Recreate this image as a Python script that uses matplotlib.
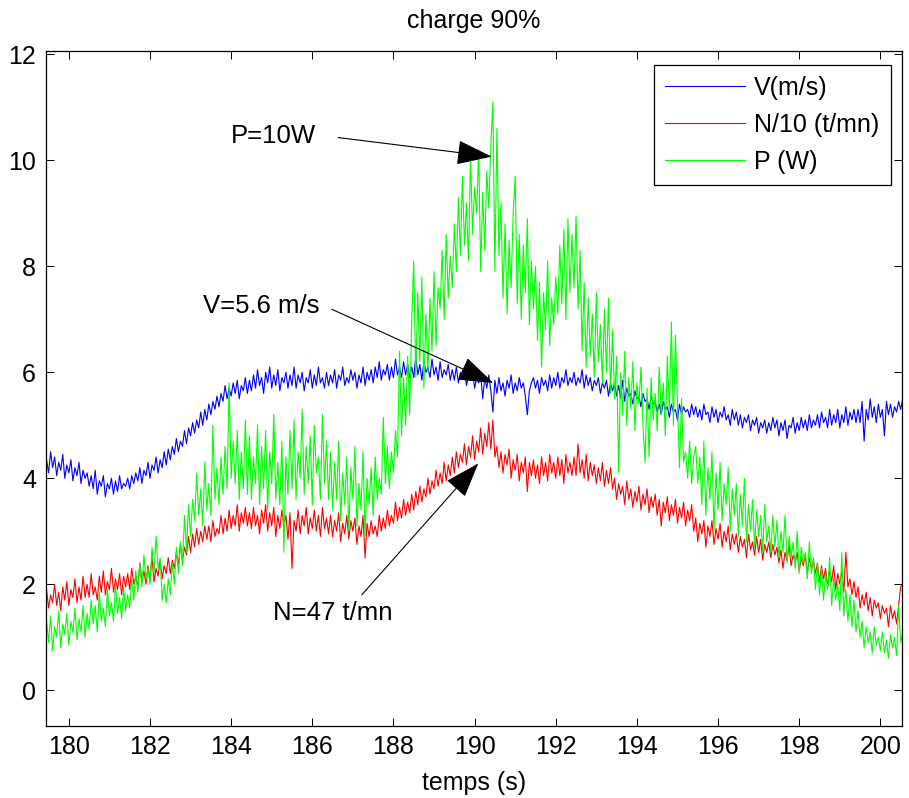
import numpy as np
import matplotlib.pyplot as plt

plt.rcParams['font.family'] = ['Liberation Sans', 'DejaVu Sans']

# sampled signals, 0.05 s step starting at 179.45 s (one row = 1 s)
t_start = 179.45
t_step = 0.05

V = [
    4.35, 4.1, 4.5, 4.2, 4.4, 4.05, 4.3, 4.15, 4.45, 4.0, 4.25, 4.1, 4.35, 3.95, 4.2, 4.05, 4.3, 3.9, 4.15, 4.0,
    4.1, 3.85, 4.05, 3.8, 4.15, 3.7, 3.95, 3.85, 4.05, 3.65, 3.9, 3.8, 4.0, 3.7, 3.95, 3.75, 4.05, 3.8, 3.9, 3.85,
    4.0, 3.8, 4.05, 3.9, 4.1, 3.95, 4.2, 3.9, 4.15, 4.05, 4.3, 4.0, 4.25, 4.15, 4.4, 4.1, 4.35, 4.2, 4.5, 4.25,
    4.55, 4.35, 4.6, 4.45, 4.75, 4.5, 4.7, 4.6, 4.9, 4.65, 4.95, 4.8, 5.05, 4.85, 5.1, 4.95, 5.25, 5.0, 5.3, 5.1,
    5.4, 5.2, 5.45, 5.3, 5.55, 5.35, 5.6, 5.45, 5.75, 5.5, 5.7, 5.55, 5.8, 5.6, 5.85, 5.5, 5.75, 5.65, 5.9, 5.6,
    5.85, 5.65, 5.95, 5.7, 6.05, 5.75, 5.9, 5.6, 6.0, 5.8, 6.1, 5.7, 5.95, 5.75, 6.05, 5.65, 5.9, 5.8, 6.0, 5.7,
    5.95, 5.75, 6.1, 5.7, 5.95, 5.8, 6.0, 5.65, 5.9, 5.8, 6.05, 5.7, 5.95, 5.75, 6.1, 5.8, 5.9, 5.7, 6.0, 5.75,
    5.95, 5.8, 6.05, 5.7, 5.95, 5.85, 6.1, 5.75, 5.9, 5.8, 6.05, 5.85, 6.0, 5.7, 5.95, 5.8, 6.1, 5.75, 6.0, 5.85,
    6.05, 5.8, 6.1, 5.9, 6.2, 5.85, 6.05, 5.95, 6.15, 5.85, 6.1, 5.9, 6.25, 5.95, 6.1, 5.9, 6.2, 5.95, 6.15, 5.9,
    6.1, 5.9, 6.3, 5.95, 6.15, 5.85, 6.2, 6.0, 6.1, 5.9, 6.25, 5.95, 6.1, 5.85, 6.2, 5.9, 6.05, 5.95, 6.15, 5.85,
    6.05, 5.85, 6.1, 5.8, 6.0, 5.9, 6.05, 5.75, 5.95, 5.85, 6.0, 5.7, 5.9, 5.8, 5.95, 5.5, 5.9, 5.7, 5.95, 5.65,
    5.25, 5.85, 5.6, 5.9, 5.65, 5.8, 5.55, 5.85, 5.7, 5.95, 5.6, 5.8, 5.65, 5.9, 5.7, 5.8, 5.55, 5.2, 5.65, 5.8,
    5.9, 5.7, 5.85, 5.6, 5.9, 5.75, 5.85, 5.65, 5.95, 5.7, 5.9, 5.75, 6.0, 5.7, 5.9, 5.8, 6.05, 5.75, 5.9, 5.8,
    6.0, 5.75, 5.9, 5.8, 6.05, 5.7, 5.95, 5.75, 5.9, 5.65, 5.85, 5.75, 5.9, 5.6, 5.8, 5.7, 5.85, 5.55, 5.8, 5.65,
    5.8, 5.55, 5.75, 5.5, 5.85, 5.45, 5.7, 5.55, 5.6, 5.4, 5.65, 5.5, 5.55, 5.35, 5.6, 5.45, 5.5, 5.3, 5.55, 5.4,
    5.45, 5.25, 5.4, 5.2, 5.45, 5.3, 5.35, 5.15, 5.4, 5.25, 5.3, 5.1, 5.4, 5.2, 5.35, 5.25, 5.3, 5.15, 5.4, 5.2,
    5.35, 5.15, 5.3, 5.1, 5.4, 5.2, 5.25, 5.05, 5.35, 5.15, 5.3, 5.05, 5.25, 5.15, 5.35, 5.1, 5.2, 5.0, 5.3, 5.1,
    5.25, 5.0, 5.2, 4.95, 5.15, 5.05, 5.2, 4.9, 5.1, 5.0, 5.15, 4.85, 5.05, 4.95, 5.1, 4.85, 5.05, 4.9, 5.15, 4.95,
    5.1, 4.8, 5.05, 4.9, 5.1, 4.75, 5.0, 4.95, 5.15, 4.85, 5.05, 4.9, 5.15, 4.95, 5.1, 4.9, 5.2, 4.95, 5.1, 5.0,
    5.2, 4.95, 5.25, 5.05, 5.15, 4.95, 5.3, 5.0, 5.2, 5.05, 5.3, 4.95, 5.2, 5.05, 5.35, 5.0, 5.25, 5.1, 5.3, 5.05,
    5.3, 5.05, 5.45, 4.7, 5.3, 5.1, 5.5, 5.15, 5.35, 5.05, 5.4, 5.15, 5.3, 4.8, 5.45, 5.2, 5.4, 5.15, 5.35, 5.25,
    5.45, 5.3, 5.5,
]

N10 = [
    1.9, 1.55, 1.8, 1.65, 2.0, 1.6, 1.85, 1.5, 1.95, 1.7, 2.05, 1.6, 1.9, 1.75, 2.1, 1.65, 1.95, 1.7, 2.15, 1.75,
    2.0, 1.75, 2.2, 1.8, 1.95, 1.7, 2.15, 1.85, 2.25, 1.8, 2.05, 1.9, 2.3, 1.85, 2.1, 1.9, 2.2, 1.8, 2.15, 1.95,
    2.2, 1.9, 2.3, 2.0, 2.15, 1.95, 2.4, 2.05, 2.25, 2.0, 2.35, 2.1, 2.5, 2.05, 2.3, 2.15, 2.45, 2.1, 2.35, 2.2,
    2.5, 2.2, 2.45, 2.3, 2.6, 2.35, 2.75, 2.45, 2.7, 2.55, 2.9, 2.6, 2.95, 2.7, 3.05, 2.75, 3.0, 2.8, 3.1, 2.85,
    3.1, 2.8, 3.2, 2.9, 3.05, 2.95, 3.3, 2.95, 3.25, 3.0, 3.4, 3.05, 3.3, 3.1, 3.5, 3.0, 3.35, 3.15, 3.45, 3.1,
    3.35, 3.05, 3.45, 3.1, 3.3, 2.95, 3.4, 3.15, 3.5, 3.0, 3.35, 3.1, 3.45, 2.9, 3.3, 3.05, 3.4, 3.1, 3.3, 2.85,
    3.35, 2.3, 3.2, 3.0, 3.4, 2.95, 3.3, 3.1, 3.45, 2.95, 3.25, 3.05, 3.4, 3.0, 3.3, 2.9, 3.45, 3.05, 3.25, 2.95,
    3.3, 2.9, 3.2, 3.0, 3.35, 2.8, 3.15, 2.95, 3.3, 2.85, 3.2, 3.0, 3.25, 2.75, 3.1, 2.9, 3.3, 2.5, 3.15, 2.9,
    3.2, 2.95, 3.1, 2.9, 3.3, 3.0, 3.25, 3.05, 3.4, 3.1, 3.3, 3.15, 3.55, 3.2, 3.45, 3.25, 3.6, 3.3, 3.55, 3.35,
    3.7, 3.4, 3.75, 3.5, 3.85, 3.55, 3.8, 3.65, 4.0, 3.7, 3.95, 3.8, 4.15, 3.85, 4.1, 3.9, 4.3, 3.95, 4.25, 4.05,
    4.4, 4.1, 4.5, 4.2, 4.45, 4.3, 4.65, 4.25, 4.6, 4.4, 4.8, 4.35, 4.7, 4.5, 4.95, 4.45, 4.85, 4.6, 5.05, 4.55,
    5.1, 4.4, 4.6, 4.2, 4.5, 4.1, 4.45, 4.25, 4.55, 4.0, 4.35, 4.15, 4.45, 3.95, 4.3, 4.1, 4.4, 3.75, 4.3, 4.05,
    4.35, 4.0, 4.25, 3.9, 4.4, 4.05, 4.3, 3.95, 4.45, 4.1, 4.3, 4.0, 4.4, 4.05, 4.35, 3.9, 4.45, 4.1, 4.3, 4.05,
    4.4, 4.05, 4.65, 4.1, 4.35, 4.0, 4.45, 3.95, 4.3, 4.05, 4.25, 3.9, 4.2, 3.95, 4.3, 3.85, 4.15, 3.9, 4.2, 3.8,
    4.0, 3.6, 3.9, 3.7, 3.85, 3.5, 3.95, 3.6, 3.8, 3.45, 3.75, 3.55, 3.85, 3.4, 3.7, 3.5, 3.8, 3.35, 3.65, 3.45,
    3.7, 3.3, 3.6, 3.1, 3.55, 3.35, 3.65, 3.2, 3.5, 3.3, 3.6, 3.15, 3.45, 3.25, 3.55, 3.1, 3.4, 3.2, 3.5, 3.0,
    3.25, 2.8, 3.15, 2.95, 3.2, 2.7, 3.1, 2.9, 3.2, 2.75, 3.05, 2.85, 3.15, 2.7, 3.0, 2.8, 3.1, 2.65, 2.95, 2.75,
    2.95, 2.6, 2.9, 2.7, 2.85, 2.5, 2.95, 2.65, 2.8, 2.55, 2.9, 2.6, 2.85, 2.45, 2.75, 2.6, 2.8, 2.5, 2.75, 2.55,
    2.7, 2.4, 2.65, 2.3, 2.6, 2.45, 2.75, 2.35, 2.55, 2.4, 2.6, 2.25, 2.5, 2.35, 2.55, 2.2, 2.5, 2.3, 2.45, 2.2,
    2.4, 2.05, 2.35, 2.1, 2.3, 1.95, 2.25, 2.05, 2.35, 1.9, 2.2, 2.0, 2.25, 1.85, 2.6, 1.95, 2.1, 1.8, 2.05, 1.75,
    1.95, 1.55, 1.8, 1.6, 1.85, 1.5, 1.75, 1.4, 1.7, 1.55, 1.65, 1.35, 1.6, 1.45, 1.55, 1.2, 1.6, 1.35, 1.5, 1.25,
    1.6, 1.95, 2.0,
]

P = [
    1.3, 0.9, 1.4, 0.75, 1.2, 1.0, 1.5, 0.8, 1.25, 1.05, 1.45, 0.85, 1.3, 1.1, 1.55, 0.95, 1.35, 1.1, 1.6, 1.0,
    1.45, 1.15, 1.7, 1.25, 1.6, 1.1, 1.85, 1.3, 1.55, 1.2, 1.9, 1.4, 1.65, 1.3, 2.0, 1.45, 1.75, 1.35, 1.95, 1.5,
    1.8, 1.55, 2.1, 1.7, 2.25, 1.85, 2.4, 1.95, 2.55, 2.1, 2.3, 2.0, 2.7, 2.2, 2.9, 2.3, 2.5, 1.7, 2.0, 1.65,
    2.1, 1.8, 2.4, 2.0, 2.7, 2.2, 2.8, 2.35, 3.3, 2.6, 3.5, 2.9, 3.6, 3.2, 4.1, 3.3, 3.8, 3.1, 4.3, 3.4,
    3.9, 3.3, 5.0, 3.6, 4.2, 3.5, 4.4, 3.7, 4.6, 3.8, 5.8, 4.0, 4.7, 3.9, 4.9, 3.6, 4.5, 3.8, 5.1, 3.7,
    4.8, 3.6, 4.4, 3.9, 5.0, 3.5, 4.6, 3.8, 4.9, 3.4, 4.5, 3.9, 5.2, 3.6, 4.3, 3.5, 4.7, 2.6, 4.4, 3.7,
    4.9, 3.8, 5.1, 3.6, 4.5, 4.0, 5.3, 3.7, 4.6, 3.9, 4.8, 3.5, 5.0, 4.1, 4.4, 3.6, 5.2, 3.9, 4.7, 3.6,
    4.5, 3.4, 4.3, 3.6, 4.7, 3.2, 4.1, 3.5, 4.4, 3.0, 4.2, 3.6, 4.6, 3.1, 3.9, 3.4, 4.5, 2.9, 4.0, 3.5,
    4.2, 3.3, 4.4, 3.6, 4.0, 3.7, 5.15, 3.9, 4.6, 3.8, 4.5, 4.1, 4.9, 4.4, 6.4, 4.8, 5.9, 5.0, 6.3, 5.2,
    7.0, 8.1, 5.9, 7.5, 6.2, 7.8, 5.7, 7.1, 6.0, 7.4, 6.4, 7.9, 6.5, 7.6, 7.2, 8.3, 7.0, 8.6, 7.4, 8.2,
    7.6, 8.8, 7.9, 9.3, 8.2, 9.7, 8.4, 9.2, 8.1, 10.1, 8.6, 9.5, 9.0, 10.2, 7.9, 9.4, 8.3, 9.8, 9.1, 10.3,
    11.1, 7.9, 10.6, 8.2, 9.2, 7.4, 8.8, 7.1, 8.5, 7.6, 9.0, 9.7, 7.3, 8.6, 7.0, 8.4, 7.5, 8.9, 6.9, 8.1,
    7.2, 8.0, 6.6, 7.7, 6.1, 7.5, 6.8, 8.1, 6.5, 7.4, 6.9, 7.8, 7.1, 8.4, 7.3, 8.7, 7.0, 8.9, 7.5, 8.6,
    7.6, 8.95, 7.2, 8.3, 6.4, 7.7, 6.1, 7.4, 6.3, 7.1, 5.9, 7.5, 6.2, 6.9, 5.8, 7.2, 6.0, 7.4, 5.6, 6.8,
    5.5, 6.3, 4.1, 6.0, 5.2, 6.4, 5.0, 5.9, 5.3, 6.2, 4.9, 5.8, 5.4, 6.1, 5.0, 4.3, 5.7, 4.4, 5.9, 5.1,
    5.6, 4.9, 6.1, 5.2, 5.8, 4.8, 6.3, 5.3, 6.95, 5.0, 6.7, 5.4, 4.2, 5.5, 4.3, 4.5, 4.0, 4.7, 3.9, 4.4,
    4.6, 3.9, 4.4, 3.5, 4.7, 3.3, 4.2, 3.6, 4.5, 3.0, 4.1, 3.4, 4.3, 3.2, 3.9, 3.5, 4.2, 3.0, 3.8, 3.3,
    3.9, 2.9, 3.7, 3.1, 4.0, 2.8, 3.5, 3.0, 3.6, 2.7, 3.4, 2.9, 3.3, 2.6, 3.5, 2.8, 3.1, 2.6, 3.3, 2.7,
    3.2, 2.5, 3.0, 2.6, 3.3, 2.4, 2.9, 2.5, 2.8, 2.3, 3.0, 2.2, 2.7, 2.4, 2.6, 2.1, 2.8, 2.2, 2.5, 1.9,
    2.4, 1.8, 2.3, 1.7, 2.2, 1.9, 2.5, 1.6, 2.1, 1.7, 2.0, 1.5, 2.6, 1.4, 1.9, 1.3, 1.8, 1.2, 1.7, 1.1,
    1.5, 1.0, 1.3, 0.8, 1.2, 0.9, 1.1, 0.7, 1.2, 0.85, 1.0, 0.75, 1.1, 0.7, 0.95, 0.6, 1.05, 0.8, 1.0, 0.65,
    1.6, 0.9, 1.1,
]

labels = ['V(m/s)', 'N/10 (t/mn)', 'P (W)']

# annotations: (text, text pos, arrow tail, arrow tip) in data units
notes = [
    ('P=10W', (185.05, 10.46), (186.64, 10.43), (190.42, 10.07)),
    ('V=5.6 m/s', (184.73, 7.25), (186.48, 7.19), (190.46, 5.80)),
    ('N=47 t/mn', (186.51, 1.46), (187.22, 1.80), (190.09, 4.28)),
]

t = t_start + t_step * np.arange(len(V))

fig = plt.figure(figsize=(9.09, 7.98), dpi=100)
ax = fig.add_axes([0.0503, 0.0906, 0.9423, 0.8459])

ax.plot(t, V, color=(0, 0, 1), lw=0.8, label=labels[0])
ax.plot(t, N10, color=(1, 0, 0), lw=0.8, label=labels[1])
ax.plot(t, P, color=(0, 1, 0), lw=0.8, label=labels[2])

ax.set_xlim(179.43, 200.54)
ax.set_ylim(-0.67, 12.07)
ax.set_xticks(np.arange(180, 201, 2))
ax.set_yticks(np.arange(0, 13, 2))
ax.tick_params(direction='in', top=True, right=True, length=6, width=0.7,
               labelsize=18, pad=7)
for s in ax.spines.values():
    s.set_linewidth(0.9)

ax.set_title('charge 90%', fontsize=18, pad=16.5)
ax.set_xlabel('temps (s)', fontsize=18, labelpad=8)

for txt, tp, tail, tip in notes:
    ax.text(tp[0], tp[1], txt, fontsize=18.5, ha='center', va='center')
    ax.annotate('', xy=tip, xytext=tail,
                arrowprops=dict(arrowstyle='-|>,head_length=0.8,head_width=0.28',
                                color='black', lw=0.8, mutation_scale=28,
                                shrinkA=0, shrinkB=0))

leg = ax.legend(loc='upper right', bbox_to_anchor=(0.9865, 0.979), fontsize=18,
                fancybox=False, framealpha=1, edgecolor='black',
                handlelength=3.2, handletextpad=0.35, labelspacing=0.52,
                borderpad=0.45, borderaxespad=0)
leg.get_frame().set_linewidth(0.9)

fig.savefig('out.png', dpi=100)
